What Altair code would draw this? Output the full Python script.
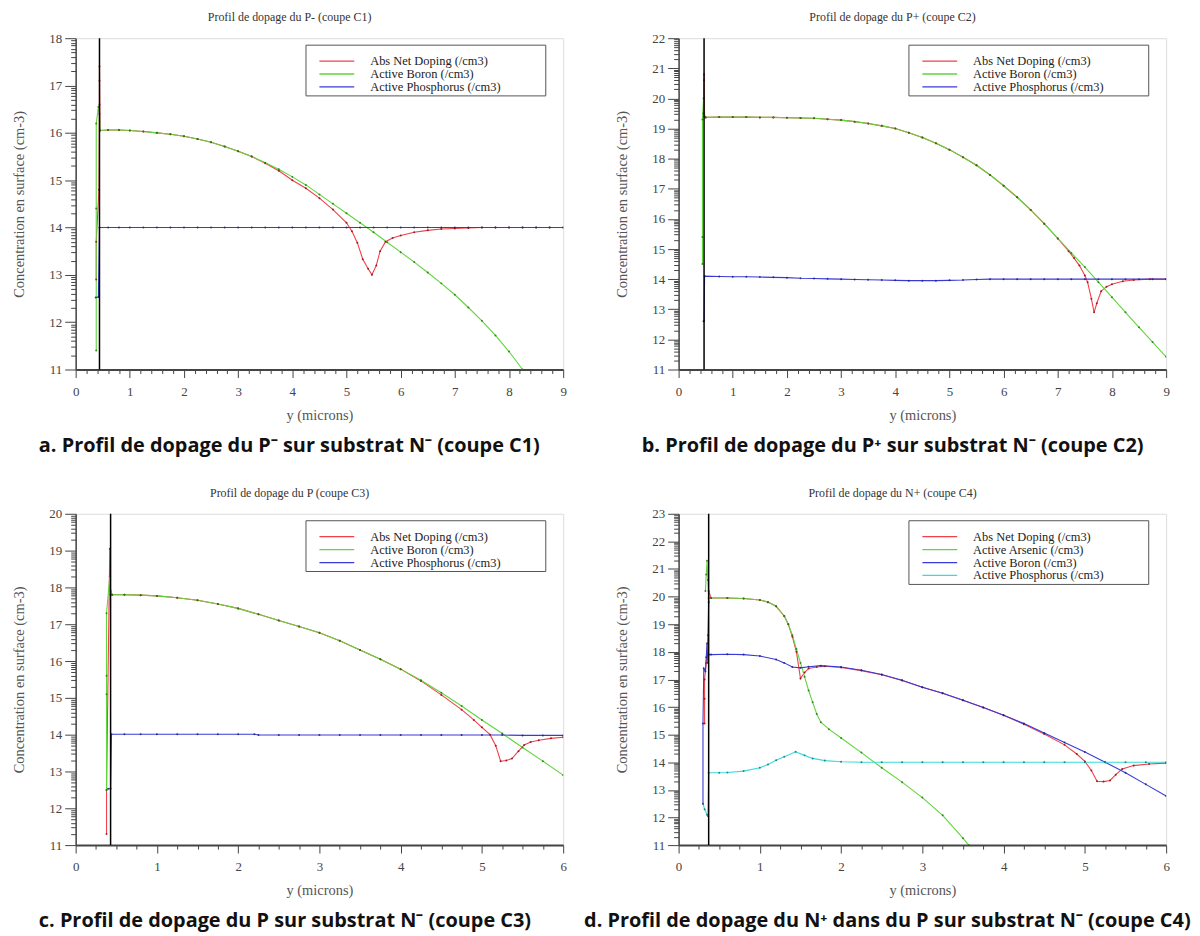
import math
import altair as alt
import pandas as pd

# ---------------- data ----------------
NET = "Abs Net Doping (/cm3)"
ARSENIC = "Active Arsenic (/cm3)"
BORON = "Active Boron (/cm3)"
PHOS = "Active Phosphorus (/cm3)"

TITLES = ["Profil de dopage du P- (coupe C1)", "Profil de dopage du P+ (coupe C2)",
          "Profil de dopage du P (coupe C3)", "Profil de dopage du N+ (coupe C4)"]
CAPTIONS = ["a. Profil de dopage du P\u207b sur substrat N\u207b (coupe C1)",
            "b. Profil de dopage du P\u207a sur substrat N\u207b (coupe C2)",
            "c. Profil de dopage du P sur substrat N\u207b (coupe C3)",
            "d. Profil de dopage du N\u207a dans du P sur substrat N\u207b (coupe C4)"]
SURFACE = [0.44, 0.47, 0.43, 0.37]
X_MAX = [9, 9, 6, 6]
Y_MIN = [11, 11, 11, 11]
Y_MAX = [18, 22, 20, 23]

# panel a
A_NET_X = [0.38, 0.38, 0.43, 0.44, 0.44, 0.44, 0.45, 0.6, 0.8, 1.0, 1.25, 1.5, 1.75, 2.0, 2.25, 2.5, 2.75,
           3.0, 3.25, 3.5, 3.75, 4.0, 4.25, 4.5, 4.75, 5.0, 5.1, 5.2, 5.3, 5.4, 5.47, 5.55, 5.62, 5.72,
           5.85, 6.0, 6.25, 6.5, 6.75, 7.0, 7.25, 7.5, 7.75, 8.0, 8.25, 8.5, 8.75, 9.0]
A_NET_Y = [12.9, 13.7, 14.8, 16.6, 17.1, 17.4, 16.05, 16.06, 16.06, 16.05, 16.03, 16.0, 15.97, 15.93, 15.87,
           15.8, 15.71, 15.61, 15.5, 15.36, 15.2, 15.0, 14.83, 14.62, 14.38, 14.1, 13.92, 13.68, 13.33, 13.13,
           13.0, 13.2, 13.5, 13.7, 13.78, 13.83, 13.9, 13.94, 13.97, 13.98, 13.99, 14.0, 14.0, 14.0, 14.0,
           14.0, 14.0, 14.0]
A_BORON_X = [0.38, 0.38, 0.38, 0.42, 0.44, 0.45, 0.6, 0.8, 1.0, 1.25, 1.5, 1.75, 2.0, 2.25, 2.5, 2.75, 3.0,
             3.25, 3.5, 3.75, 4.0, 4.25, 4.5, 4.75, 5.0, 5.25, 5.5, 5.75, 6.0, 6.25, 6.5, 6.75, 7.0, 7.25,
             7.5, 7.75, 8.0, 8.25]
A_BORON_Y = [11.4, 14.4, 16.2, 16.55, 16.4, 16.05, 16.06, 16.06, 16.05, 16.03, 16.0, 15.97, 15.93, 15.87,
             15.8, 15.71, 15.61, 15.5, 15.37, 15.23, 15.07, 14.9, 14.7, 14.5, 14.3, 14.1, 13.9, 13.69, 13.48,
             13.27, 13.05, 12.82, 12.58, 12.31, 12.03, 11.72, 11.38, 11.0]
A_PHOS_X = [0.37, 0.42, 0.44, 0.6, 0.8, 1.0, 1.25, 1.5, 1.75, 2.0, 2.25, 2.5, 2.75, 3.0, 3.25, 3.5, 3.75,
            4.0, 4.25, 4.5, 4.75, 5.0, 5.25, 5.5, 5.75, 6.0, 6.25, 6.5, 6.75, 7.0, 7.25, 7.5, 7.75, 8.0,
            8.25, 8.5, 8.75, 9.0]
A_PHOS_Y = [12.52, 12.53, 14.0, 14.0, 14.0, 14.0, 14.0, 14.0, 14.0, 14.0, 14.0, 14.0, 14.0, 14.0, 14.0, 14.0,
            14.0, 14.0, 14.0, 14.0, 14.0, 14.0, 14.0, 14.0, 14.0, 14.0, 14.0, 14.0, 14.0, 14.0, 14.0, 14.0,
            14.0, 14.0, 14.0, 14.0, 14.0, 14.0]

# panel b
B_NET_X = [0.46, 0.47, 0.47, 0.48, 0.5, 0.75, 1.0, 1.25, 1.5, 1.75, 2.0, 2.25, 2.5, 2.75, 3.0, 3.25, 3.5,
           3.75, 4.0, 4.25, 4.5, 4.75, 5.0, 5.25, 5.5, 5.75, 6.0, 6.25, 6.5, 6.75, 7.0, 7.2, 7.3, 7.4, 7.5,
           7.55, 7.62, 7.67, 7.72, 7.8, 7.9, 8.0, 8.2, 8.4, 8.7, 9.0]
B_NET_Y = [19.5, 20.8, 20.6, 19.4, 19.37, 19.38, 19.38, 19.38, 19.37, 19.37, 19.36, 19.35, 19.34, 19.31,
           19.28, 19.23, 19.17, 19.09, 19.0, 18.86, 18.7, 18.51, 18.3, 18.05, 17.78, 17.46, 17.1, 16.72,
           16.3, 15.84, 15.35, 14.93, 14.7, 14.45, 14.12, 13.9, 13.35, 12.9, 13.2, 13.6, 13.75, 13.83, 13.93,
           13.97, 14.0, 14.0]
B_BORON_X = [0.44, 0.44, 0.44, 0.46, 0.47, 0.5, 0.75, 1.0, 1.25, 1.5, 1.75, 2.0, 2.25, 2.5, 2.75, 3.0, 3.25,
             3.5, 3.75, 4.0, 4.25, 4.5, 4.75, 5.0, 5.25, 5.5, 5.75, 6.0, 6.25, 6.5, 6.75, 7.0, 7.25, 7.5,
             7.75, 8.0, 8.25, 8.5, 8.75, 9.0]
B_BORON_Y = [14.5, 15.4, 19.3, 20.0, 19.4, 19.37, 19.38, 19.38, 19.38, 19.37, 19.37, 19.36, 19.35, 19.34,
             19.31, 19.28, 19.23, 19.17, 19.09, 19.0, 18.86, 18.7, 18.51, 18.3, 18.05, 17.78, 17.46, 17.1,
             16.72, 16.3, 15.84, 15.35, 14.87, 14.4, 13.9, 13.4, 12.9, 12.4, 11.91, 11.42]
B_PHOS_X = [0.46, 0.47, 0.48, 0.75, 1.0, 1.25, 1.5, 1.75, 2.0, 2.25, 2.5, 2.75, 3.0, 3.25, 3.5, 3.75, 4.0,
            4.25, 4.5, 4.75, 5.0, 5.25, 5.5, 5.75, 6.0, 6.25, 6.5, 6.75, 7.0, 7.25, 7.5, 7.75, 8.0, 8.25,
            8.5, 8.75, 9.0]
B_PHOS_Y = [12.6, 12.6, 14.1, 14.09, 14.08, 14.08, 14.07, 14.06, 14.05, 14.03, 14.02, 14.01, 14.0, 13.99,
            13.98, 13.97, 13.96, 13.95, 13.95, 13.95, 13.96, 13.97, 13.99, 14.0, 14.0, 14.0, 14.0, 14.0,
            14.0, 14.0, 14.0, 14.0, 14.0, 14.0, 14.0, 14.0, 14.0]

# panel c
C_NET_X = [0.38, 0.38, 0.42, 0.43, 0.45, 0.6, 0.8, 1.0, 1.25, 1.5, 1.75, 2.0, 2.25, 2.5, 2.75, 3.0, 3.25,
           3.5, 3.75, 4.0, 4.25, 4.5, 4.75, 4.9, 5.0, 5.1, 5.17, 5.23, 5.3, 5.37, 5.45, 5.52, 5.6, 5.7, 5.85,
           6.0]
C_NET_Y = [11.3, 12.5, 19.05, 17.8, 17.8, 17.8, 17.79, 17.77, 17.72, 17.65, 17.55, 17.43, 17.27, 17.1,
           16.94, 16.77, 16.55, 16.3, 16.05, 15.78, 15.46, 15.08, 14.68, 14.4, 14.2, 14.0, 13.7, 13.28,
           13.3, 13.35, 13.55, 13.72, 13.8, 13.85, 13.9, 13.93]
C_BORON_X = [0.38, 0.38, 0.38, 0.38, 0.42, 0.43, 0.45, 0.6, 0.8, 1.0, 1.25, 1.5, 1.75, 2.0, 2.25, 2.5, 2.75,
             3.0, 3.25, 3.5, 3.75, 4.0, 4.25, 4.5, 4.75, 5.0, 5.25, 5.5, 5.75, 6.0]
C_BORON_Y = [12.5, 15.1, 15.6, 17.3, 18.3, 17.9, 17.8, 17.8, 17.79, 17.77, 17.72, 17.65, 17.55, 17.43,
             17.27, 17.1, 16.94, 16.77, 16.55, 16.3, 16.05, 15.78, 15.48, 15.14, 14.78, 14.4, 14.03,
             13.65, 13.28, 12.9]
C_PHOS_X = [0.4, 0.43, 0.44, 0.6, 0.8, 1.0, 1.25, 1.5, 1.75, 2.0, 2.2, 2.25, 2.5, 2.75, 3.0, 3.25, 3.5,
            3.75, 4.0, 4.25, 4.5, 4.75, 5.0, 5.25, 5.5, 5.75, 6.0]
C_PHOS_Y = [12.53, 12.53, 14.01, 14.01, 14.01, 14.01, 14.01, 14.01, 14.01, 14.01, 14.01, 13.99, 13.99,
            13.99, 13.99, 13.99, 13.99, 13.99, 13.99, 13.99, 13.99, 13.99, 13.99, 13.99, 13.98, 13.98, 13.98]

# panel d
D_NET_X = [0.32, 0.32, 0.32, 0.34, 0.36, 0.37, 0.37, 0.4, 0.6, 0.8, 1.0, 1.1, 1.2, 1.3, 1.35, 1.4, 1.45,
           1.5, 1.55, 1.6, 1.7, 1.8, 2.0, 2.25, 2.5, 2.75, 3.0, 3.25, 3.5, 3.75, 4.0, 4.25, 4.5, 4.75, 4.9,
           5.0, 5.08, 5.15, 5.23, 5.31, 5.38, 5.46, 5.6, 5.79, 6.0]
D_NET_Y = [15.4, 16.3, 17.0, 17.6, 18.6, 19.8, 20.2, 19.95, 19.95, 19.93, 19.88, 19.8, 19.65, 19.3, 19.0,
           18.55, 18.0, 17.03, 17.25, 17.4, 17.45, 17.48, 17.43, 17.32, 17.17, 16.96, 16.72, 16.5, 16.25,
           15.98, 15.7, 15.38, 15.02, 14.63, 14.3, 14.03, 13.7, 13.31, 13.3, 13.34, 13.55, 13.76, 13.88,
           13.94, 13.97]
D_ARSENIC_X = [0.33, 0.34, 0.35, 0.36, 0.37, 0.4, 0.6, 0.8, 1.0, 1.1, 1.2, 1.3, 1.35, 1.4, 1.45, 1.5, 1.55,
               1.6, 1.65, 1.7, 1.75, 1.85, 2.0, 2.25, 2.5, 2.75, 3.0, 3.25, 3.5, 3.57]
D_ARSENIC_Y = [20.2, 20.8, 21.3, 20.6, 19.95, 19.95, 19.95, 19.93, 19.88, 19.8, 19.65, 19.3, 19.0, 18.6,
               18.1, 17.6, 17.1, 16.6, 16.17, 15.75, 15.45, 15.2, 14.88, 14.35, 13.8, 13.28, 12.72, 12.08,
               11.25, 11.0]
D_BORON_X = [0.3, 0.3, 0.31, 0.33, 0.34, 0.35, 0.36, 0.37, 0.4, 0.6, 0.8, 1.0, 1.2, 1.3, 1.4, 1.5, 1.6,
             1.75, 2.0, 2.25, 2.5, 2.75, 3.0, 3.25, 3.5, 3.75, 4.0, 4.25, 4.5, 4.75, 5.0, 5.25, 5.5, 5.75,
             6.0]
D_BORON_Y = [12.5, 15.4, 17.4, 17.3, 17.8, 18.3, 17.6, 17.9, 17.9, 17.91, 17.9, 17.85, 17.72, 17.6, 17.45,
             17.42, 17.46, 17.5, 17.45, 17.33, 17.18, 16.97, 16.72, 16.5, 16.25, 15.98, 15.7, 15.4, 15.06,
             14.72, 14.37, 14.0, 13.62, 13.2, 12.78]
D_PHOS_X = [0.3, 0.32, 0.35, 0.36, 0.37, 0.5, 0.6, 0.8, 1.0, 1.1, 1.2, 1.3, 1.44, 1.55, 1.65, 1.8, 2.0,
            2.25, 2.5, 2.75, 3.0, 3.25, 3.5, 3.75, 4.0, 4.25, 4.5, 4.75, 5.0, 5.25, 5.5, 5.75, 6.0]
D_PHOS_Y = [12.5, 12.3, 12.1, 12.05, 13.62, 13.62, 13.63, 13.68, 13.8, 13.92, 14.07, 14.2, 14.38, 14.25,
            14.14, 14.06, 14.02, 14.0, 14.0, 14.0, 14.0, 14.0, 14.0, 14.0, 14.0, 14.0, 14.0, 14.0, 14.0,
            14.0, 14.0, 14.0, 14.0]

PANELS = [
    [(NET, A_NET_X, A_NET_Y), (BORON, A_BORON_X, A_BORON_Y), (PHOS, A_PHOS_X, A_PHOS_Y)],
    [(NET, B_NET_X, B_NET_Y), (BORON, B_BORON_X, B_BORON_Y), (PHOS, B_PHOS_X, B_PHOS_Y)],
    [(NET, C_NET_X, C_NET_Y), (BORON, C_BORON_X, C_BORON_Y), (PHOS, C_PHOS_X, C_PHOS_Y)],
    [(NET, D_NET_X, D_NET_Y), (ARSENIC, D_ARSENIC_X, D_ARSENIC_Y), (BORON, D_BORON_X, D_BORON_Y),
     (PHOS, D_PHOS_X, D_PHOS_Y)],
]

# ---------------- styling ----------------
LINE_COLORS_3 = ["#f0404a", "#5fd63c", "#3a3ad8"]
DOT_COLORS_3 = ["#8a1a1a", "#2f7a1a", "#24248a"]
LINE_COLORS_4 = ["#f0404a", "#5fd63c", "#3a3ad8", "#38dcdc"]
DOT_COLORS_4 = ["#8a1a1a", "#2f7a1a", "#24248a", "#1a7a7a"]

SERIF = "Liberation Serif"
W, H = 490, 333
CAP_DY = [77, 77, 76, 76]
CAP_X = [-37, -37, -37, -95]
AXIS_COLOR = "#444"
IS_INT = "abs(datum.value - round(datum.value)) < 0.000001"


def panel(k):
    series = PANELS[k]
    names = [s[0] for s in series]
    rows = []
    for name, xs, ys in series:
        for i, (xv, yv) in enumerate(zip(xs, ys)):
            rows.append({"x": xv, "y": yv, "s": name, "i": i})
    df = pd.DataFrame(rows)
    lc = LINE_COLORS_4 if len(names) == 4 else LINE_COLORS_3
    dc = DOT_COLORS_4 if len(names) == 4 else DOT_COLORS_3
    xmax, ymin, ymax = X_MAX[k], Y_MIN[k], Y_MAX[k]
    xstep = 0.2 if xmax == 9 else 0.25
    n_x = int(round(xmax / xstep))
    x_ticks = [round(j * xstep, 6) for j in range(n_x + 1)]
    y_ticks = [float(n) for n in range(ymin, ymax + 1)] + \
              [n + math.log10(m) for n in range(ymin, ymax) for m in range(2, 10)]
    y_ticks.sort()
    xscale = alt.Scale(domain=[0, xmax], nice=False, zero=False)
    yscale = alt.Scale(domain=[ymin, ymax], nice=False, zero=False)
    xaxis = alt.Axis(title="y (microns)", values=x_ticks, tickCount=1000, tickMinStep=0.001,
                     labelExpr=f"{IS_INT} ? format(datum.value, 'd') : ''",
                     tickSize={"condition": {"test": IS_INT, "value": 8}, "value": 4},
                     labelOverlap=False, grid=False, labelFont=SERIF, labelFontSize=13,
                     labelColor=AXIS_COLOR, titleFont=SERIF, titleFontSize=14.5, titleFontWeight="normal",
                     titleColor="#555", titlePadding=10, labelPadding=8, tickColor=AXIS_COLOR,
                     domainColor=AXIS_COLOR, domainWidth=2, labelFlush=False)
    yaxis = alt.Axis(title="Concentration en surface (cm-3)", values=y_ticks, tickCount=1000,
                     tickMinStep=0.001,
                     labelExpr=f"{IS_INT} ? format(datum.value, 'd') : ''",
                     tickSize={"condition": {"test": IS_INT, "value": 11}, "value": 5},
                     labelOverlap=False, grid=False, labelFont=SERIF,
                     labelFontSize=13, labelColor=AXIS_COLOR, titleFont=SERIF, titleFontSize=14.5,
                     titleFontWeight="normal", titleColor="#555", titlePadding=22, labelPadding=3,
                     tickColor=AXIS_COLOR, domainColor=AXIS_COLOR, domainWidth=1.5, labelFlush=False)
    legend = alt.Legend(title=None, orient="none", legendX=234, legendY=7, symbolType="stroke",
                        symbolSize=1225, clipHeight=12, symbolStrokeWidth=1.3, labelFont=SERIF,
                        labelFontSize=12.5, labelColor="#222", labelOffset=15, labelLimit=600,
                        rowPadding=0, padding=10)
    X = lambda f: alt.X(f, scale=xscale, axis=xaxis)
    Y = lambda f: alt.Y(f, scale=yscale, axis=yaxis)
    base = alt.Chart(df)
    lines = base.mark_line(clip=True, strokeWidth=1.1).encode(
        x=X("x:Q"), y=Y("y:Q"),
        color=alt.Color("s:N", scale=alt.Scale(domain=names, range=lc), legend=legend),
        order="i:Q",
    )
    dots = base.mark_circle(clip=True, size=4, opacity=0.9).encode(
        x=X("x:Q"), y=Y("y:Q"),
        color=alt.Color("s:N", scale=alt.Scale(domain=names, range=dc), legend=None),
    )
    surf = alt.Chart(pd.DataFrame({"x": [SURFACE[k]]})).mark_rule(color="black", strokeWidth=1.5).encode(
        x=X("x:Q"))
    leg_h = 51 if len(names) == 3 else 64
    box = alt.Chart(pd.DataFrame({"t": [TITLES[k]]})).mark_rect(
        fill="white", stroke="#555", strokeWidth=1).encode(
        x=alt.value(231.5), x2=alt.value(472.5), y=alt.value(7), y2=alt.value(7 + leg_h))
    ttl = alt.Chart(pd.DataFrame({"t": [TITLES[k]]})).mark_text(
        font=SERIF, fontSize=12, color="#333", align="center", baseline="middle"
    ).encode(x=alt.value(W / 2 - 30), y=alt.value(-21), text="t:N")
    cap = alt.Chart(pd.DataFrame({"t": [CAPTIONS[k]]})).mark_text(
        font="Open Sans", fontSize=20, fontWeight="bold", color="#111", align="left", baseline="middle"
    ).encode(x=alt.value(CAP_X[k]), y=alt.value(H + CAP_DY[k]), text="t:N")
    layer = alt.layer(lines, dots, surf, box, ttl, cap).resolve_scale(
        color="independent").properties(width=W, height=H)
    return layer


row1 = alt.hconcat(panel(0), panel(1), spacing=47)
row2 = alt.hconcat(panel(2), panel(3), spacing=16)
chart = alt.vconcat(row1, row2, spacing=29).resolve_scale(color="independent").configure_view(
    stroke="#777", strokeWidth=1).configure(padding={"left": 3, "top": 0, "right": 0, "bottom": 0},
                                            background="white")

chart.save("out.html", embed_options={"renderer": "svg", "actions": False})
